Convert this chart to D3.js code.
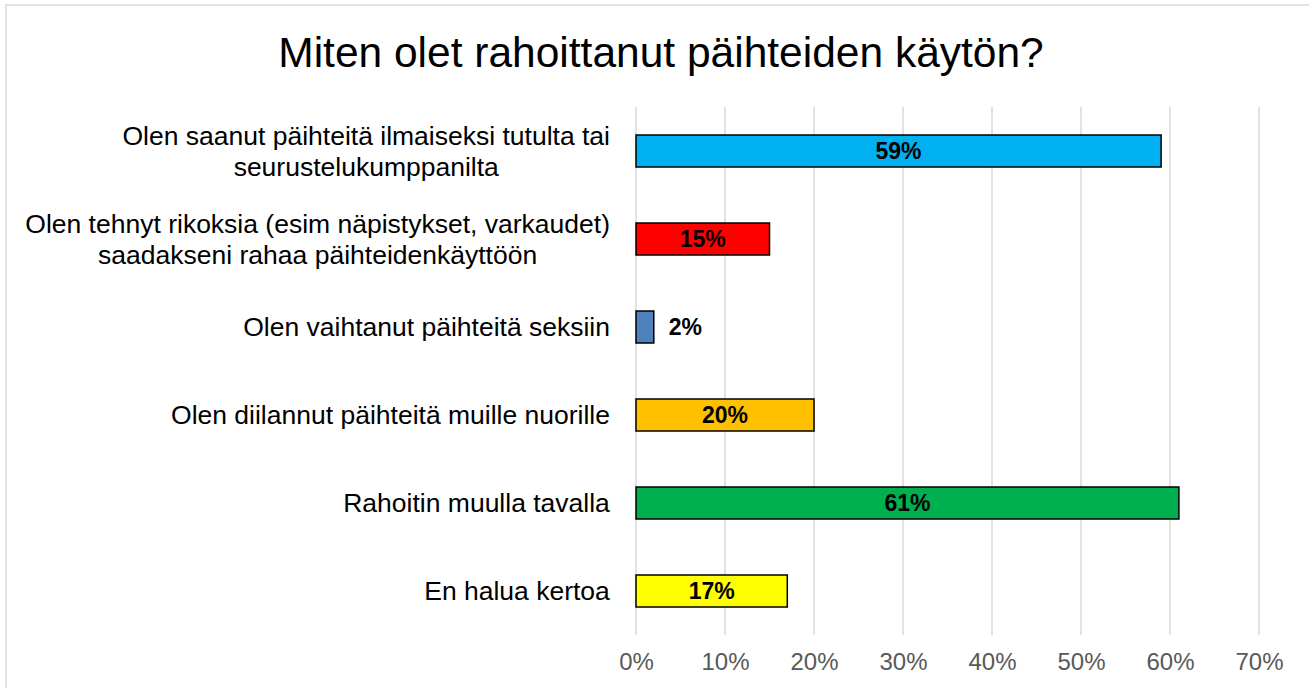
<!DOCTYPE html>
<html>
<head>
<meta charset="utf-8">
<script src="https://cdn.jsdelivr.net/npm/d3@7"></script>
<style>
  body { margin: 0; background: #fff; }
  text { font-family: "Liberation Sans", Arial, sans-serif; }
</style>
</head>
<body>
<svg id="svg"></svg>
<script>
const width = 1309;
const height = 688;

const margin = { top: 107, right: 50, bottom: 53, left: 636 };

const title = "Miten olet rahoittanut päihteiden käytön?";

// categories, one line per array entry
const categories = [
    ["Olen saanut päihteitä ilmaiseksi tutulta tai", "seurustelukumppanilta"],
    ["Olen tehnyt rikoksia (esim näpistykset, varkaudet)", "saadakseni rahaa päihteidenkäyttöön"],
    ["Olen vaihtanut päihteitä seksiin"],
    ["Olen diilannut päihteitä muille nuorille"],
    ["Rahoitin muulla tavalla"],
    ["En halua kertoa"]
];
const values = [0.59, 0.15, 0.02, 0.20, 0.61, 0.17];
const colours = ["#00B0F0", "#FF0000", "#4F81BD", "#FFC000", "#00B050", "#FFFF00"];
const tickValues = [0, 0.1, 0.2, 0.3, 0.4, 0.5, 0.6, 0.7];

const data = categories.map((c, i) => ({ key: i, lines: c, value: values[i], colour: colours[i] }));

let svg = d3.select("#svg")
    .attr("width", width)
    .attr("height", height);

// chart border
svg.append("rect")
    .attr("x", 6)
    .attr("y", 5)
    .attr("width", 1320)
    .attr("height", 700)
    .attr("fill", "#fff")
    .attr("stroke", "#d9d9d9")
    .attr("stroke-width", 1.5);

let xScale = d3.scaleLinear()
    .domain([0, 0.7])
    .range([margin.left, 1259]);

let yScale = d3.scaleBand()
    .domain(data.map(d => d.key))
    .range([margin.top, height - margin.bottom])
    .padding(0);

// gap width 175% like the original
const barH = yScale.bandwidth() / 2.75;

// gridlines
svg.append("g")
    .selectAll("line")
    .data(tickValues)
    .enter()
    .append("line")
        .attr("x1", d => xScale(d))
        .attr("x2", d => xScale(d))
        .attr("y1", margin.top)
        .attr("y2", height - margin.bottom)
        .attr("stroke", "#d9d9d9")
        .attr("stroke-width", 1.5);

// x axis labels
let xAxis = svg.append("g")
    .attr("transform", `translate(0, ${height - margin.bottom})`)
    .call(d3.axisBottom(xScale).tickValues(tickValues).tickFormat(d3.format(".0%")).tickSize(0).tickPadding(18));
xAxis.select(".domain").remove();
xAxis.selectAll("text")
    .attr("font-family", "Liberation Sans, Arial, sans-serif")
    .attr("font-size", "24px")
    .style("fill", "#595959");

// bars
svg.append("g")
    .selectAll(".bar")
    .data(data)
    .enter()
    .append("rect")
        .attr("class", "bar")
        .attr("x", xScale(0))
        .attr("y", d => yScale(d.key) + (yScale.bandwidth() - barH) / 2)
        .attr("width", d => xScale(d.value) - xScale(0))
        .attr("height", barH)
        .attr("fill", d => d.colour)
        .attr("stroke", "#000")
        .attr("stroke-width", 1.5);

// value labels, inside the bar unless too short
svg.append("g")
    .selectAll(".value")
    .data(data)
    .enter()
    .append("text")
        .attr("class", "value")
        .text(d => d3.format(".0%")(d.value))
        .attr("x", d => d.value < 0.05 ? xScale(d.value) + 15 : (xScale(0) + xScale(d.value)) / 2)
        .attr("y", d => yScale(d.key) + yScale.bandwidth() / 2)
        .attr("dy", "0.36em")
        .attr("text-anchor", d => d.value < 0.05 ? "start" : "middle")
        .attr("font-size", "23px")
        .attr("font-weight", "bold")
        .style("fill", "#000");

// category labels
const lineH = 31;
let catLabels = svg.append("g")
    .selectAll(".cat")
    .data(data)
    .enter()
    .append("text")
        .attr("class", "cat")
        .attr("font-size", "26.5px")
        .attr("text-anchor", "middle")
        .style("fill", "#000");

catLabels.each(function(d) {
    let t = d3.select(this);
    let cy = yScale(d.key) + yScale.bandwidth() / 2;
    let first = cy - (d.lines.length - 1) * lineH / 2;
    d.lines.forEach((line, i) => {
        t.append("tspan")
            .attr("x", 0)
            .attr("y", first + i * lineH)
            .attr("dy", "0.35em")
            .text(line);
    });
    // right-align the whole block at x = 610, lines centred on each other
    let w = this.getBBox().width;
    t.selectAll("tspan").attr("x", 610 - w / 2);
});

// title
svg.append("text")
    .text(title)
    .attr("x", 661)
    .attr("y", 67)
    .attr("text-anchor", "middle")
    .attr("font-size", "42.5px")
    .style("fill", "#000");

svg.node();
</script>
</body>
</html>
